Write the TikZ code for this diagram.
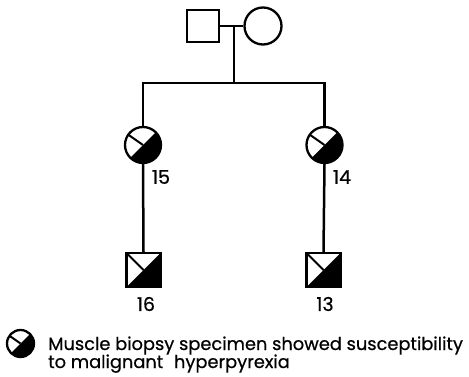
\documentclass[tikz,border=0pt]{standalone}
\usepackage{fontspec}
\setmainfont{Poppins}
\newfontfamily\legendfont[FakeBold=0.6]{Poppins}
\begin{document}
\begin{tikzpicture}[x=1pt,y=1pt,
  ln/.style={line width=2.5pt},
  malebox/.style={draw, line width=2.3pt, rectangle, minimum size=32pt, inner sep=0pt},
  femalebox/.style={draw, line width=2.3pt, circle, minimum size=36pt, inner sep=0pt},
  affcircle/.style={femalebox, path picture={
      \fill ([shift={(225:40pt)}]path picture bounding box.center) -- ([shift={(45:40pt)}]path picture bounding box.center) -- ([shift={(-45:40pt)}]path picture bounding box.center) -- cycle;
      \draw[line width=2pt] (path picture bounding box.center) -- ([shift={(145:30pt)}]path picture bounding box.center);}},
  affsquare/.style={malebox, path picture={
      \fill (path picture bounding box.south west) -- (path picture bounding box.north east) -- (path picture bounding box.south east) -- cycle;
      \draw[line width=2pt] (path picture bounding box.center) -- (path picture bounding box.north west);}},
  num/.style={font=\legendfont\fontsize{19}{19}\selectfont, inner sep=0pt},
  legtxt/.style={anchor=base west, inner sep=0pt, font=\legendfont\fontsize{17.8}{19}\selectfont}
  ]
\useasboundingbox (0,0) rectangle (469,376);
% parents
\node[malebox] (f) at (203,350) {};
\node[femalebox, minimum size=37pt] (m) at (263,350) {};
\draw[ln] (f.east) -- (m.west);
\coordinate (mid) at (234,350);
\coordinate (sib) at (234,293);
\coordinate (sl) at (143,293);
\coordinate (sr) at (324.5,293);
\draw[ln] (mid) -- (sib);
\draw[ln] ([xshift=-1.25pt]sl) -- ([xshift=1.25pt]sr);
% daughters
\node[affcircle] (d15) at (143,231) {};
\node[affcircle] (d14) at (324.5,231) {};
\draw[ln] (sl) -- (d15.north);
\draw[ln] (sr) -- (d14.north);
\node[num] (l15) at (161,199) {15};
\node[num] (l14) at (342,199) {14};
% grandsons
\node[affsquare, minimum size=34pt] (s16) at (143.5,106) {};
\node[affsquare, minimum size=34pt] (s13) at (323.5,106) {};
\draw[ln] (d15.south) -- (s16.north);
\draw[ln] (d14.south) -- (s13.north);
\node[num] (l16) at (146,72) {16};
\node[num] (l13) at (325,72) {13};
% legend
\node[affcircle, minimum size=27pt] (leg) at (20.5,32.5) {};
\node[legtxt] (legtext1) at (48,26) {Muscle biopsy specimen showed susceptibility};
\node[legtxt] (legtext2) at (48,8) {to malignant\hspace{6pt} hyperpyrexia};
\end{tikzpicture}
\end{document}
